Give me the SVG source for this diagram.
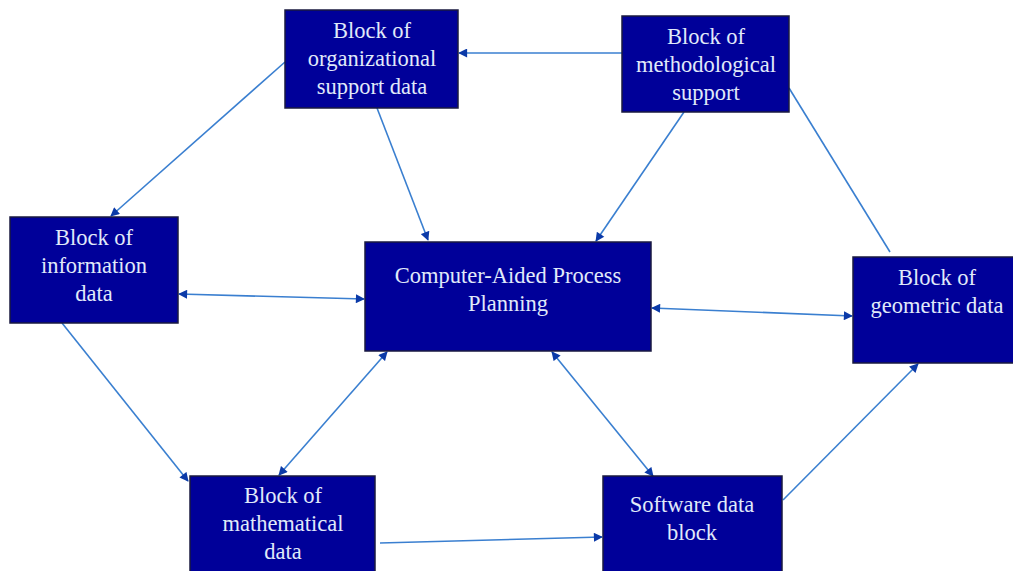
<svg xmlns="http://www.w3.org/2000/svg" width="1013" height="571" viewBox="0 0 1013 571">
  <style>
    .box { fill: #000099; stroke: #1a1a40; stroke-width: 1.5; }
    .lbl { font-family: "Liberation Serif", "Times New Roman", serif; font-size: 22.5px; fill: #e0eafa; text-anchor: middle; }
    .ln { stroke: #3a7fd0; stroke-width: 1.6; fill: none; }
  </style>
  <defs>
    <marker id="ah" viewBox="0 0 10 10" refX="9" refY="5" markerWidth="10" markerHeight="9" orient="auto-start-reverse" markerUnits="userSpaceOnUse">
      <path d="M0,0 L10,5 L0,10 z" fill="#0b3aa8"/>
    </marker>
  </defs>
  <rect width="1013" height="571" fill="#ffffff"/>

  <g id="connectors">
    <line class="ln" x1="622" y1="53" x2="459" y2="53" marker-end="url(#ah)"/>
    <line class="ln" x1="285" y1="62" x2="111" y2="216" marker-end="url(#ah)"/>
    <line class="ln" x1="377" y1="108" x2="428" y2="240" marker-end="url(#ah)"/>
    <line class="ln" x1="684" y1="112" x2="596" y2="241" marker-end="url(#ah)"/>
    <line class="ln" x1="789" y1="88" x2="890" y2="252"/>
    <line class="ln" x1="179" y1="294" x2="364" y2="299" marker-start="url(#ah)" marker-end="url(#ah)"/>
    <line class="ln" x1="652" y1="308" x2="852" y2="316" marker-start="url(#ah)" marker-end="url(#ah)"/>
    <line class="ln" x1="62" y1="323" x2="188" y2="481" marker-end="url(#ah)"/>
    <line class="ln" x1="387" y1="352" x2="279" y2="475" marker-start="url(#ah)" marker-end="url(#ah)"/>
    <line class="ln" x1="552" y1="352" x2="653" y2="476" marker-start="url(#ah)" marker-end="url(#ah)"/>
    <line class="ln" x1="380" y1="543" x2="602" y2="537" marker-end="url(#ah)"/>
    <line class="ln" x1="783" y1="500" x2="918" y2="364" marker-end="url(#ah)"/>
  </g>

  <g id="organizational">
    <rect class="box" x="285" y="10" width="173" height="98"/>
    <text class="lbl" x="372" y="38">Block of</text>
    <text class="lbl" x="372" y="66">organizational</text>
    <text class="lbl" x="372" y="94">support data</text>
  </g>

  <g id="methodological">
    <rect class="box" x="622" y="16" width="167" height="96"/>
    <text class="lbl" x="706" y="44">Block of</text>
    <text class="lbl" x="706" y="72">methodological</text>
    <text class="lbl" x="706" y="100">support</text>
  </g>

  <g id="information">
    <rect class="box" x="10" y="217" width="168" height="106"/>
    <text class="lbl" x="94" y="245">Block of</text>
    <text class="lbl" x="94" y="273">information</text>
    <text class="lbl" x="94" y="301">data</text>
  </g>

  <g id="capp">
    <rect class="box" x="365" y="242" width="286" height="109"/>
    <text class="lbl" x="508" y="283">Computer-Aided Process</text>
    <text class="lbl" x="508" y="311">Planning</text>
  </g>

  <g id="geometric">
    <rect class="box" x="853" y="257" width="165" height="106"/>
    <text class="lbl" x="937" y="285">Block of</text>
    <text class="lbl" x="937" y="313">geometric data</text>
  </g>

  <g id="mathematical">
    <rect class="box" x="190" y="476" width="185" height="100"/>
    <text class="lbl" x="283" y="503">Block of</text>
    <text class="lbl" x="283" y="531">mathematical</text>
    <text class="lbl" x="283" y="559">data</text>
  </g>

  <g id="software">
    <rect class="box" x="603" y="476" width="179" height="100"/>
    <text class="lbl" x="692" y="512">Software data</text>
    <text class="lbl" x="692" y="540">block</text>
  </g>
</svg>
